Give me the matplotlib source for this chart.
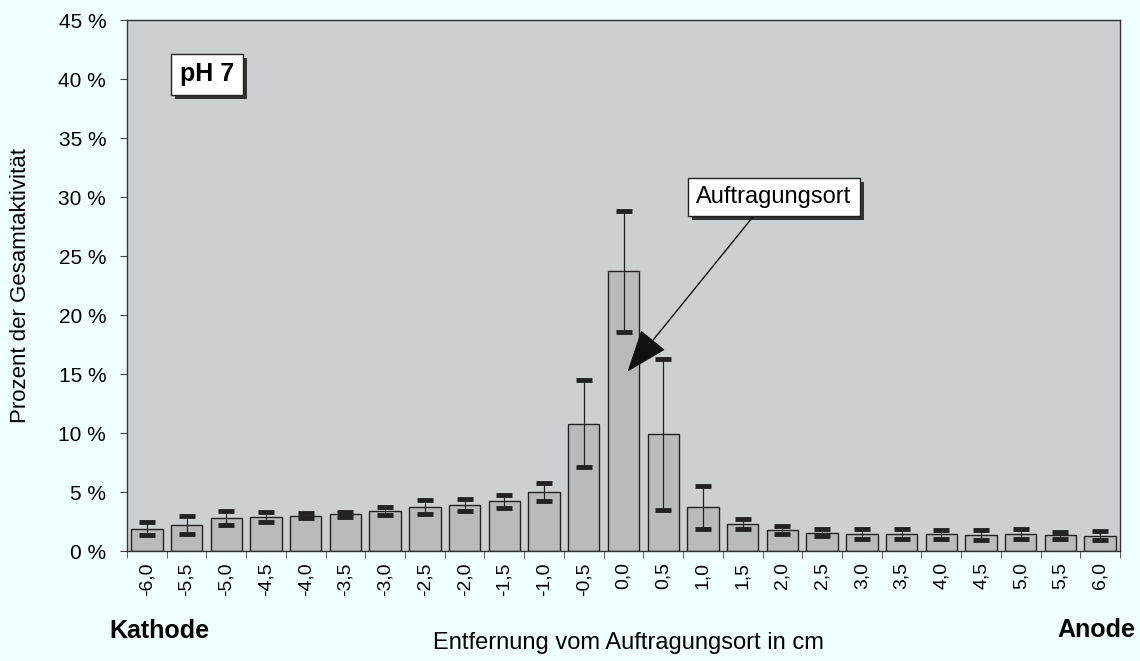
import numpy as np
import matplotlib.pyplot as plt
from matplotlib.patches import Rectangle
from matplotlib.transforms import IdentityTransform
from matplotlib.ticker import FixedLocator, FuncFormatter

plt.rcParams['font.family'] = ['Liberation Sans', 'DejaVu Sans']

# distance from application point (cm) and share of total activity (%)
distance = [-6.0, -5.5, -5.0, -4.5, -4.0, -3.5, -3.0, -2.5, -2.0, -1.5, -1.0, -0.5,
            0.0, 0.5, 1.0, 1.5, 2.0, 2.5, 3.0, 3.5, 4.0, 4.5, 5.0, 5.5, 6.0]
activity = [1.9, 2.2, 2.8, 2.9, 3.0, 3.1, 3.4, 3.7, 3.9, 4.2, 5.0, 10.8,
            23.7, 9.9, 3.7, 2.3, 1.8, 1.55, 1.45, 1.45, 1.4, 1.35, 1.45, 1.35, 1.3]
activity_err = [0.55, 0.75, 0.6, 0.4, 0.2, 0.2, 0.35, 0.6, 0.5, 0.55, 0.8, 3.7,
                5.15, 6.4, 1.8, 0.45, 0.35, 0.3, 0.4, 0.4, 0.38, 0.4, 0.45, 0.3, 0.38]
tick_labels = [f"{d:.1f}".replace('.', ',') for d in distance]

bg = '#f0ffff'
fig = plt.figure(figsize=(11.4, 6.61), dpi=100, facecolor=bg)
ax = fig.add_axes([0.1114, 0.1664, 0.8711, 0.8033])
ax.set_facecolor('#cdd0d0')

x = np.arange(len(distance))
ax.bar(x, activity, width=0.79, color='#b9bbbb', edgecolor='#222222', linewidth=1.0, zorder=2)
ax.errorbar(x, activity, yerr=activity_err, fmt='none', ecolor='#222222', elinewidth=0.9,
            capsize=6, capthick=3.5, zorder=3)

ax.set_xlim(-0.5, len(distance) - 0.5)
ax.set_ylim(0, 45)
ax.set_yticks(np.arange(0, 46, 5))
ax.yaxis.set_major_formatter(FuncFormatter(lambda v, p: f"{v:.0f} %"))
ax.set_xticks(x)
ax.set_xticklabels(tick_labels, rotation=90, fontsize=14)
ax.xaxis.set_minor_locator(FixedLocator(np.arange(-0.5, len(distance), 1.0)))
ax.tick_params(axis='x', which='major', length=0, pad=8)
ax.tick_params(axis='x', which='minor', length=5, direction='out', color='#444444')
ax.tick_params(axis='y', labelsize=15, length=5, color='#444444', pad=10)
for s in ax.spines.values():
    s.set_color('#333333')
    s.set_linewidth(1.0)

ax.set_ylabel('Prozent der Gesamtaktivität', fontsize=16, labelpad=14)
ax.yaxis.set_label_coords(-0.097, 0.5)
fig.text(0.551, 0.027, 'Entfernung vom Auftragungsort in cm', ha='center', va='center', fontsize=17)
fig.text(0.096, 0.045, 'Kathode', ha='left', va='center', fontsize=18, fontweight='bold')
fig.text(0.996, 0.047, 'Anode', ha='right', va='center', fontsize=18, fontweight='bold')

box = dict(boxstyle='square,pad=0.35', facecolor='white', edgecolor='#222222', linewidth=1.0)

ph_label = ax.text(1.51, 40.4, 'pH 7', ha='center', va='center', fontsize=18, fontweight='bold',
                   bbox=box, zorder=5)
site_label = ax.annotate('Auftragungsort', xy=(12.1, 15.2), xytext=(15.79, 30.0),
                         ha='center', va='center', fontsize=17, bbox=box, zorder=5,
                         arrowprops=dict(arrowstyle='-|>,head_length=1.6,head_width=0.6',
                                         color='#111111', linewidth=1.0, shrinkA=0, shrinkB=0,
                                         relpos=(0.41, 0.0)))

# drop shadows behind the two label boxes
fig.canvas.draw()
for label in (ph_label, site_label):
    bb = label.get_bbox_patch().get_window_extent()
    ax.add_patch(Rectangle((bb.x0 + 4, bb.y0 - 4), bb.width, bb.height,
                           transform=IdentityTransform(), facecolor='#333333',
                           edgecolor='none', zorder=4))

fig.savefig('out.png', dpi=100, facecolor=bg)
